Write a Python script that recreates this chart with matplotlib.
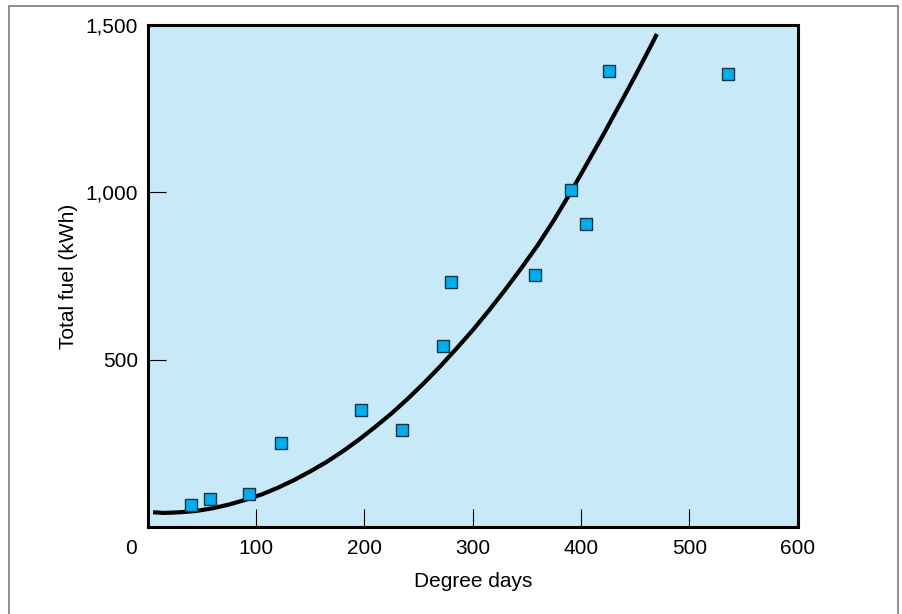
import matplotlib
matplotlib.use("Agg")
import matplotlib.pyplot as plt
import matplotlib.transforms as mtransforms
from matplotlib.patches import Rectangle

plt.rcParams['font.family'] = ['Liberation Sans', 'DejaVu Sans']

# data points
degree_days = [40, 57.5, 93.5, 123, 197, 235, 272.6, 280, 357.6, 391, 405, 426, 536]
total_fuel = [66, 84, 99, 251, 350, 290, 541, 732, 753, 1007, 905, 1362, 1353]

# fitted curve
curve_x = [5, 15, 30, 45, 60, 75, 90, 105, 120, 135, 150, 165, 180, 195, 210, 225,
           240, 255, 270, 285, 300, 315, 330, 345, 360, 375, 390, 405, 420, 435,
           450, 465, 470]
curve_y = [44, 42, 44, 48, 56, 67, 81, 97, 117, 140, 166, 194, 226, 261, 299, 339,
           383, 430, 480, 533, 588, 647, 709, 774, 842, 917, 998, 1083, 1169, 1258,
           1348, 1441, 1473]

x_ticks = [0, 100, 200, 300, 400, 500, 600]
y_ticks = [500, 1000, 1500]
y_labels = ['500', '1,000', '1,500']

fig = plt.figure(figsize=(9.02, 6.14), dpi=100)
ax = fig.add_axes([0.1637, 0.1417, 0.8844 - 0.1637, 0.9593 - 0.1417])
ax.set_facecolor('#c7e9f8')

# outer frame around the whole figure
fig.patches.append(Rectangle((9 / 902, -0.02), 889 / 902, 1.0151 - 3 / 614,
                             transform=fig.transFigure, fill=False,
                             edgecolor='#7a7a7a', lw=1.2))

ax.plot(curve_x, curve_y, color='black', lw=3, solid_capstyle='butt',
        solid_joinstyle='round', zorder=2)
ax.plot(degree_days, total_fuel, 's', ms=8.6, mfc='#00aeef', mec='#1b3442',
        mew=1.0, zorder=3)

ax.set_xlim(0, 600)
ax.set_ylim(0, 1500)
ax.set_xticks(x_ticks)
ax.set_yticks(y_ticks)
ax.set_yticklabels(y_labels)
ax.tick_params(direction='in', length=13, width=0.8, labelsize=15, color='black')
ax.tick_params(axis='x', pad=9)
ax.tick_params(axis='y', pad=7)

for s in ax.spines.values():
    s.set_linewidth(2.2)

# origin label sits left of the corner
lbl = ax.get_xticklabels()[0]
lbl.set_transform(lbl.get_transform() +
                  mtransforms.ScaledTranslation(-17 / 100, 0, fig.dpi_scale_trans))

ax.set_xlabel('Degree days', fontsize=15, labelpad=10)
ax.set_ylabel('Total fuel (kWh)', fontsize=15, labelpad=5)

fig.savefig('out.png', dpi=100)
